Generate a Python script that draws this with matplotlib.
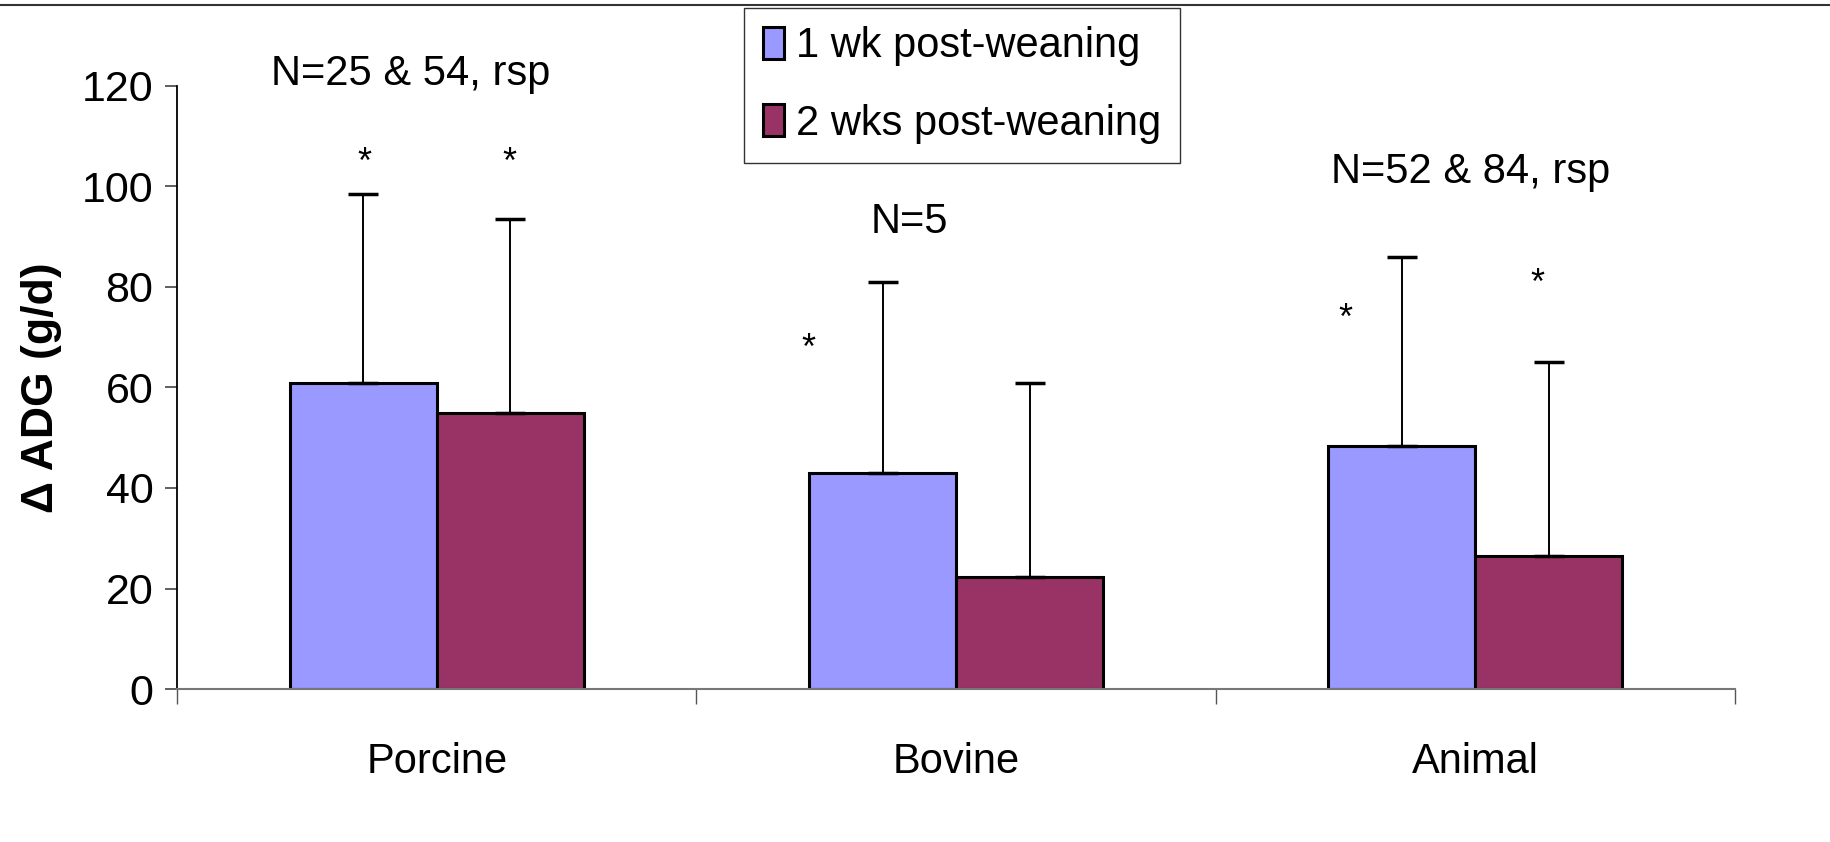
import numpy as np
import matplotlib.pyplot as plt
from matplotlib.lines import Line2D

categories = ['Porcine', 'Bovine', 'Animal']
series_names = ['1 wk post-weaning', '2 wks post-weaning']
wk1_mean = [60.9, 43.0, 48.4]
wk1_sd = [37.7, 37.9, 37.6]
wk2_mean = [54.9, 22.3, 26.5]
wk2_sd = [38.6, 38.6, 38.6]
n_labels = ['N=25 & 54, rsp', 'N=5', 'N=52 & 84, rsp']
n_label_x = [-0.05, -0.09, -0.01]   # offset from category centre
n_label_y = [118.5, 89, 99]
# asterisk positions (x offset from category centre, y in data units)
star_cat = [0, 0, 1, 2, 2]
star_x = [-0.14, 0.14, -0.285, -0.25, 0.12]
star_y = [101, 101, 64, 70, 77]

regular = ['Liberation Sans', 'DejaVu Sans']

fig = plt.figure(figsize=(18.31, 8.42), dpi=100)
ax = fig.add_axes([0.0967, 0.1817, 0.8509, 0.7162])

x = np.arange(len(categories))
w = 0.283
col1 = '#9999FF'
col2 = '#993366'

ax.bar(x - w/2, wk1_mean, w, color=col1, edgecolor='black', linewidth=2.2, zorder=2)
ax.bar(x + w/2, wk2_mean, w, color=col2, edgecolor='black', linewidth=2.2, zorder=2)
ax.errorbar(x - w/2, wk1_mean, yerr=[np.zeros(3), wk1_sd], fmt='none', ecolor='black',
            elinewidth=1.4, capsize=11, capthick=2.5, zorder=3)
ax.errorbar(x + w/2, wk2_mean, yerr=[np.zeros(3), wk2_sd], fmt='none', ecolor='black',
            elinewidth=1.4, capsize=11, capthick=2.5, zorder=3)

for i, t in enumerate(n_labels):
    ax.text(x[i] + n_label_x[i], n_label_y[i], t, ha='center', va='bottom',
            fontsize=30, family=regular)

for c, dx, yy in zip(star_cat, star_x, star_y):
    ax.text(x[c] + dx, yy, '*', ha='center', va='bottom', fontsize=26, family=regular)

ax.set_xlim(-0.5, 2.5)
ax.set_ylim(0, 120)
ax.set_yticks(np.arange(0, 121, 20))
ax.set_xticks(x)
ax.set_xticklabels(categories, fontsize=30, family=regular)
ax.set_xticks([-0.5, 0.5, 1.5, 2.5], minor=True)
ax.tick_params(axis='x', which='major', length=0, pad=38)
ax.tick_params(axis='x', which='minor', length=11, width=1, color='#555555', direction='out')
ax.tick_params(axis='y', length=9, width=1.2, color='#444444', pad=8)
for lab in ax.get_yticklabels():
    lab.set_fontsize(31)
    lab.set_family(regular)

for s in ['top', 'right']:
    ax.spines[s].set_visible(False)
ax.spines['left'].set_color('black')
ax.spines['left'].set_linewidth(1.3)
ax.spines['bottom'].set_color('#777777')
ax.spines['bottom'].set_linewidth(1.5)

ax.set_ylabel('\u0394 ADG (g/d)', fontsize=32, fontweight='bold', family=regular, labelpad=14)

handles = [plt.Rectangle((0, 0), 1, 1, facecolor=col1, edgecolor='black', linewidth=2.2),
           plt.Rectangle((0, 0), 1, 1, facecolor=col2, edgecolor='black', linewidth=2.2)]
leg = fig.legend(handles, series_names, loc='upper left', bbox_to_anchor=(0.4063, 0.991),
                 prop={'family': regular, 'size': 30}, frameon=True, fancybox=False,
                 edgecolor='black', handlelength=0.5, handleheight=0.8, handletextpad=0.3,
                 labelspacing=0.9, borderpad=0.45, borderaxespad=0)
leg.get_frame().set_linewidth(1.0)

fig.add_artist(Line2D([0, 1], [0.994, 0.994], transform=fig.transFigure, color='#333333', linewidth=1.5))

fig.savefig('out.png', dpi=100)
